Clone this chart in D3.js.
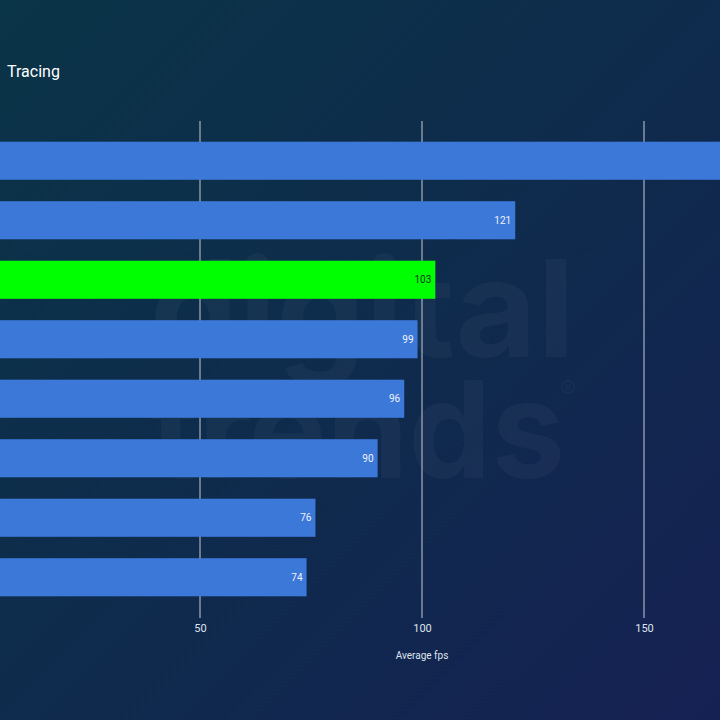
<!DOCTYPE html>
<html>
<head>
<meta charset="utf-8">
<script src="https://cdn.jsdelivr.net/npm/d3@7"></script>
<style>
  html, body { margin: 0; padding: 0; background: #0f2a4c; }
  svg { display: block; font-family: Roboto, "Noto Sans", sans-serif; }
</style>
</head>
<body>
<svg id="chart" width="720" height="720"></svg>
<script>
// values (category names are cropped out of the image)
var gpus = ['GPU A', 'GPU B', 'GPU C', 'GPU D', 'GPU E', 'GPU F', 'GPU G', 'GPU H'];
var fps = [175, 121, 103, 99, 96, 90, 76, 74];
var highlight = ['GPU C'];
var ticks = [50, 100, 150];

var width = 720, height = 720;
var svg = d3.select('#chart');

// background gradient
var defs = svg.append('defs');
var grad = defs.append('linearGradient')
  .attr('id', 'bg').attr('x1', 0).attr('y1', 0).attr('x2', 1).attr('y2', 1);
grad.append('stop').attr('offset', '0%').attr('stop-color', '#0a3447');
grad.append('stop').attr('offset', '55%').attr('stop-color', '#0f2a4d');
grad.append('stop').attr('offset', '100%').attr('stop-color', '#162153');
svg.append('rect').attr('width', width).attr('height', height).attr('fill', 'url(#bg)');

// faint watermark
var wm = svg.append('g').attr('fill', '#ffffff').attr('fill-opacity', 0.035)
  .attr('font-weight', 'bold').attr('font-family', 'Inter, Roboto, sans-serif');
wm.append('text').attr('x', 150).attr('y', 357).attr('font-size', 135)
  .attr('textLength', 425).attr('lengthAdjust', 'spacingAndGlyphs').text('digital');
wm.append('text').attr('x', 150).attr('y', 478).attr('font-size', 135)
  .attr('textLength', 415).attr('lengthAdjust', 'spacingAndGlyphs').text('trends');
wm.append('text').attr('x', 560).attr('y', 398).attr('font-size', 24).text('®');

var x = d3.scaleLinear().domain([0, 150]).range([-22, 644]);
var y = d3.scaleBand().domain(gpus).range([131, 607]).paddingInner(0.36).paddingOuter(0.18);

// title (cropped at left in the reference)
svg.append('text')
  .attr('x', 7).attr('y', 77)
  .attr('fill', '#ffffff').attr('font-size', 16)
  .text('Tracing');

// grid lines
svg.append('g').selectAll('line')
  .data(ticks).enter().append('line')
  .attr('x1', function(d) { return x(d); })
  .attr('x2', function(d) { return x(d); })
  .attr('y1', 121).attr('y2', 618)
  .attr('stroke', '#c5cad3').attr('stroke-width', 1);

// bars
var bar = svg.append('g').selectAll('g.bar')
  .data(gpus).enter().append('g').attr('class', 'bar');

bar.append('rect')
  .attr('x', x(0))
  .attr('y', function(d) { return y(d); })
  .attr('height', y.bandwidth())
  .attr('width', function(d, i) { return x(fps[i]) - x(0); })
  .attr('fill', function(d) { return highlight.indexOf(d) >= 0 ? '#00ff00' : '#3c78d8'; });

// value labels (the one past the right edge is cropped away in the reference)
bar.filter(function(d, i) { return x(fps[i]) < width; })
  .append('text')
  .attr('x', function(d) { return x(fps[gpus.indexOf(d)]) - 4; })
  .attr('y', function(d) { return y(d) + y.bandwidth() / 2; })
  .attr('dy', '0.35em')
  .attr('text-anchor', 'end')
  .attr('font-size', 10)
  .attr('fill', function(d) { return highlight.indexOf(d) >= 0 ? '#14341c' : '#eef2fa'; })
  .text(function(d) { return fps[gpus.indexOf(d)]; });

// x axis tick labels
var axis = svg.append('g').attr('transform', 'translate(0,624)')
  .call(d3.axisBottom(x).tickValues(ticks).tickSize(0).tickPadding(0));
axis.select('.domain').remove();
axis.selectAll('text')
  .attr('dy', '0.71em')
  .attr('font-size', 11)
  .attr('font-family', 'Roboto, sans-serif')
  .attr('fill', '#dde3ee');

svg.append('text')
  .attr('x', x(100)).attr('y', 659)
  .attr('text-anchor', 'middle')
  .attr('font-size', 10)
  .attr('fill', '#dde3ee')
  .text('Average fps');
</script>
</body>
</html>
